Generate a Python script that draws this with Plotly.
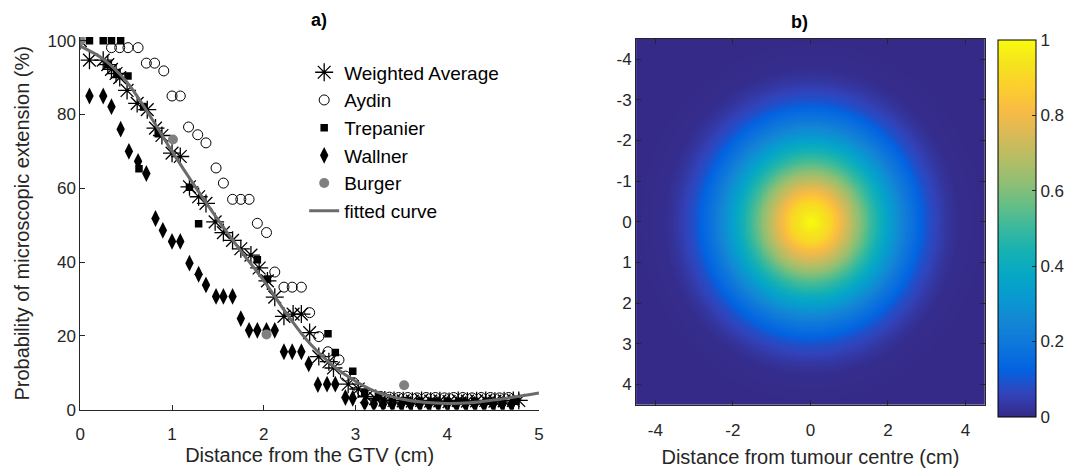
import numpy as np
import plotly.graph_objects as go

# ---------------- data ----------------
wa_x = [0.0, 0.10, 0.25, 0.30, 0.34, 0.39, 0.43, 0.51, 0.62, 0.73, 0.82, 0.89, 1.00, 1.09,
        1.19, 1.29, 1.37, 1.47, 1.56, 1.66, 1.75, 1.86, 1.95, 2.04, 2.12, 2.22, 2.32, 2.41,
        2.50, 2.60, 2.71, 2.76, 2.92, 3.03, 3.12, 3.22, 3.32, 3.42, 3.52, 3.62, 3.72, 3.82,
        3.92, 4.02, 4.12, 4.22, 4.32, 4.42, 4.52, 4.62, 4.72, 4.78]
wa_y = [100, 94.7, 94.7, 93.5, 92.2, 91.1, 90.0, 86.5, 83.0, 81.3, 76.3, 74.3, 69.5, 68.6,
        60.4, 57.7, 55.9, 50.9, 48.0, 45.9, 43.6, 41.9, 38.4, 34.9, 30.5, 25.3, 25.9, 25.9,
        20.9, 14.4, 13.0, 11.3, 6.9, 5.6, 3.5, 3.0, 2.6, 2.5, 2.4, 2.3, 2.5, 2.3,
        2.4, 2.2, 2.5, 2.3, 2.4, 2.5, 2.3, 2.4, 2.5, 2.5]

ay_x = [0.34, 0.43, 0.52, 0.63, 0.72, 0.81, 0.91, 1.00, 1.09, 1.18, 1.28, 1.37, 1.48, 1.56,
        1.66, 1.75, 1.84, 1.93, 2.03, 2.12, 2.22, 2.31, 2.41, 2.50, 2.60, 2.70, 2.82, 2.89,
        2.98, 3.07, 3.17, 3.27, 3.37, 3.47, 3.57, 3.67, 3.77, 3.87, 3.97, 4.07, 4.17, 4.27,
        4.37, 4.47, 4.57, 4.67]
ay_y = [98.1, 98.1, 98.1, 98.1, 93.9, 93.9, 91.8, 85.0, 85.0, 76.6, 74.5, 72.3, 65.5, 61.4,
        57.0, 57.0, 57.0, 50.5, 48.0, 37.3, 33.2, 33.2, 33.2, 26.3, 19.8, 15.7, 13.5, 9.1,
        7.3, 5.0, 4.0, 3.6, 3.4, 3.3, 3.3, 3.2, 3.3, 3.3, 3.2, 3.3, 3.3, 3.2, 3.3, 3.3,
        3.2, 3.3]

tr_x = [0.10, 0.25, 0.34, 0.44, 0.30, 0.40, 0.52, 0.64, 0.69, 0.85, 1.19, 1.29, 1.93, 2.04,
        2.70, 2.78, 2.97, 3.10, 3.25, 3.40, 3.55, 3.70, 3.85, 4.00, 4.15, 4.30, 4.45, 4.60,
        4.75]
tr_y = [100, 100, 100, 100, 93.5, 91.0, 90.4, 65.3, 82.0, 74.8, 60.3, 50.4, 40.6, 35.4,
        20.6, 15.5, 10.4, 4.5, 3.5, 2.8, 2.5, 2.3, 2.2, 2.2, 2.3, 2.2, 2.3, 2.2, 2.3]

wl_x = [0.10, 0.25, 0.34, 0.44, 0.53, 0.63, 0.72, 0.82, 0.90, 1.00, 1.09, 1.19, 1.29, 1.37,
        1.48, 1.56, 1.66, 1.75, 1.84, 1.93, 2.03, 2.12, 2.22, 2.31, 2.41, 2.49, 2.59, 2.69,
        2.78, 2.89, 2.97, 3.10, 3.20, 3.30, 3.40, 3.50, 3.60, 3.70, 3.80, 3.90, 4.00, 4.10,
        4.20, 4.30, 4.40, 4.50, 4.60, 4.70]
wl_y = [85.0, 85.0, 82.1, 76.0, 70.0, 67.3, 64.0, 51.8, 48.6, 45.6, 45.6, 39.7, 36.7, 33.8,
        30.7, 30.7, 30.7, 24.7, 21.5, 21.5, 21.5, 21.5, 15.7, 15.7, 15.7, 12.4, 6.8, 6.9,
        6.9, 3.3, 3.1, 1.8, 1.6, 1.5, 1.5, 1.4, 1.5, 1.5, 1.4, 1.5, 1.5, 1.4, 1.5, 1.5,
        1.4, 1.5, 1.5, 1.4]

bu_x = [0.0, 1.01, 2.03, 3.53]
bu_y = [100, 73.2, 20.4, 6.6]

fit_x = [0.0, 0.25, 0.5, 0.75, 1.0, 1.25, 1.5, 1.75, 2.0, 2.25, 2.5, 2.75, 3.0, 3.25,
         3.5, 3.75, 4.0, 4.25, 4.5, 4.75, 5.0]
fit_y = [98.5, 95.0, 89.0, 80.0, 70.0, 60.5, 51.5, 43.0, 35.0, 26.0, 18.0, 12.0, 7.7, 4.6,
         2.9, 2.0, 1.7, 1.9, 2.6, 3.5, 4.5]

# radial profile of the 2-D map (b)
prof_r = [0.0, 0.5, 1.0, 1.5, 2.0, 2.5, 3.0, 3.5, 3.8, 4.5, 8.0]
prof_v = [1.0, 0.9, 0.71, 0.52, 0.35, 0.2, 0.09, 0.03, 0.008, 0.0, 0.0]

map_ticks = [-4, -3, -2, -1, 0, 1, 2, 3, 4]
map_ticklabels = ["-4", "-3", "-2", "-1", "0", "1", "2", "3", "4"]
map_xticks = [-4, -2, 0, 2, 4]
map_xticklabels = ["-4", "-2", "0", "2", "4"]

legend_names = ["Weighted Average", "Aydin", "Trepanier", "Wallner", "Burger", "fitted curve"]

# ---------------- styling ----------------
W, H = 1071, 471
FONT = "Liberation Sans, Arial, Helvetica, sans-serif"
TXT = "#262626"
TICK_FS = 17
LAB_FS = 20

# parula colormap (MATLAB)
parula = [
    (0.2081, 0.1663, 0.5292), (0.1959, 0.2645, 0.7279), (0.0117, 0.3875, 0.8820),
    (0.0498, 0.4586, 0.8641), (0.0793, 0.5200, 0.8312), (0.0343, 0.5966, 0.8199),
    (0.0228, 0.6535, 0.7768), (0.0843, 0.6928, 0.7062), (0.2178, 0.7250, 0.6193),
    (0.3953, 0.7459, 0.5244), (0.5709, 0.7485, 0.4494), (0.7184, 0.7411, 0.3905),
    (0.8507, 0.7299, 0.3360), (0.9739, 0.7314, 0.2666), (0.9880, 0.8066, 0.1794),
    (0.9589, 0.8949, 0.1132), (0.9763, 0.9831, 0.0538)]
cs = [[i / (len(parula) - 1), "rgb(%d,%d,%d)" % tuple(int(round(c * 255)) for c in p)]
      for i, p in enumerate(parula)]

fig = go.Figure()

fig.add_trace(go.Scatter(x=wa_x, y=wa_y, mode="markers", name=legend_names[0],
                         marker=dict(symbol="asterisk-open", size=15, color="black",
                                     line=dict(color="black", width=1.3)),
                         xaxis="x", yaxis="y"))
fig.add_trace(go.Scatter(x=ay_x, y=ay_y, mode="markers", name=legend_names[1],
                         marker=dict(symbol="circle-open", size=10, color="black",
                                     line=dict(color="black", width=1)),
                         xaxis="x", yaxis="y"))
fig.add_trace(go.Scatter(x=tr_x, y=tr_y, mode="markers", name=legend_names[2],
                         marker=dict(symbol="square", size=7.5, color="black"),
                         xaxis="x", yaxis="y"))
fig.add_trace(go.Scatter(x=wl_x, y=wl_y, mode="markers", name=legend_names[3],
                         marker=dict(symbol="diamond-tall", size=12, color="black"),
                         xaxis="x", yaxis="y"))
fig.add_trace(go.Scatter(x=bu_x, y=bu_y, mode="markers", name=legend_names[4],
                         marker=dict(symbol="circle", size=10, color="#808080"),
                         xaxis="x", yaxis="y"))
fig.add_trace(go.Scatter(x=fit_x, y=fit_y, mode="lines", name=legend_names[5],
                         line=dict(color="#6b6b6b", width=3, shape="spline"),
                         xaxis="x", yaxis="y"))

# heat map
gx = np.linspace(-4.5, 4.5, 241)
gy = np.linspace(-4.5, 4.5, 241)
XX, YY = np.meshgrid(gx, gy)
RR = np.sqrt(XX ** 2 + YY ** 2)
ZZ = np.interp(RR, prof_r, prof_v)
fig.add_trace(go.Heatmap(x=gx, y=gy, z=ZZ, colorscale=cs, zmin=0, zmax=1,
                         zsmooth="best", showscale=True, xaxis="x2", yaxis="y2",
                         showlegend=False,
                         colorbar=dict(x=1002 / W, xanchor="left", y=1 - 36 / H,
                                       yanchor="top", len=377, lenmode="pixels",
                                       thickness=38, thicknessmode="pixels",
                                       outlinecolor="black", outlinewidth=1,
                                       ticks="inside", ticklen=4, tickcolor=TXT,
                                       tickvals=[0, 0.2, 0.4, 0.6, 0.8, 1],
                                       ticktext=["0", "0.2", "0.4", "0.6", "0.8", "1"],
                                       tickfont=dict(size=TICK_FS, color=TXT, family=FONT),
                                       xpad=0, ypad=0)))

axis_common = dict(showgrid=False, zeroline=False, linecolor=TXT, linewidth=1,
                   ticks="inside", ticklen=5, tickcolor=TXT,
                   tickfont=dict(size=TICK_FS, color=TXT, family=FONT))

fig.update_layout(
    width=W, height=H,
    margin=dict(l=0, r=0, t=0, b=0),
    paper_bgcolor="white", plot_bgcolor="white",
    font=dict(family=FONT, color=TXT),
    xaxis=dict(domain=[76 / W, 539 / W], range=[0, 5], tickvals=[0, 1, 2, 3, 4, 5],
               showline=True, anchor="y", ticklabelstandoff=9,
               title=dict(text="Distance from the GTV (cm)", font=dict(size=LAB_FS, color=TXT),
                          standoff=0),
               **axis_common),
    yaxis=dict(domain=[1 - 418 / H, 1 - 33 / H], range=[0, 101],
               tickvals=[0, 20, 40, 60, 80, 100], showline=True, anchor="x",
               title=dict(text="Probability of microscopic extension (%)",
                          font=dict(size=LAB_FS, color=TXT), standoff=12),
               **axis_common),
    xaxis2=dict(domain=[637 / W, 989 / W], range=[-4.5, 4.5], anchor="y2",
                tickvals=map_xticks, ticktext=map_xticklabels, showline=True,
                mirror="ticks", ticklabelstandoff=10,
                title=dict(text="Distance from tumour centre (cm)",
                           font=dict(size=LAB_FS, color=TXT), standoff=10),
                **axis_common),
    yaxis2=dict(domain=[1 - 413 / H, 1 - 35 / H], range=[4.5, -4.5], anchor="x2",
                tickvals=map_ticks, ticktext=map_ticklabels, showline=True,
                mirror="ticks", **axis_common),
    legend=dict(x=302 / W, y=1 - 50 / H, xanchor="left", yanchor="top",
                bgcolor="rgba(0,0,0,0)", borderwidth=0,
                font=dict(size=19, color="black", family=FONT),
                tracegroupgap=0),
    annotations=[
        dict(text="<b>a)</b>", x=307 / W, y=1 - 15 / H, xref="paper", yref="paper",
             yanchor="middle", showarrow=False,
             font=dict(size=18, color="black", family=FONT)),
        dict(text="<b>b)</b>", x=813 / W, y=1 - 18 / H, xref="paper", yref="paper",
             yanchor="middle", showarrow=False,
             font=dict(size=18, color="black", family=FONT)),
    ],
)

fig.write_html("out.html")
